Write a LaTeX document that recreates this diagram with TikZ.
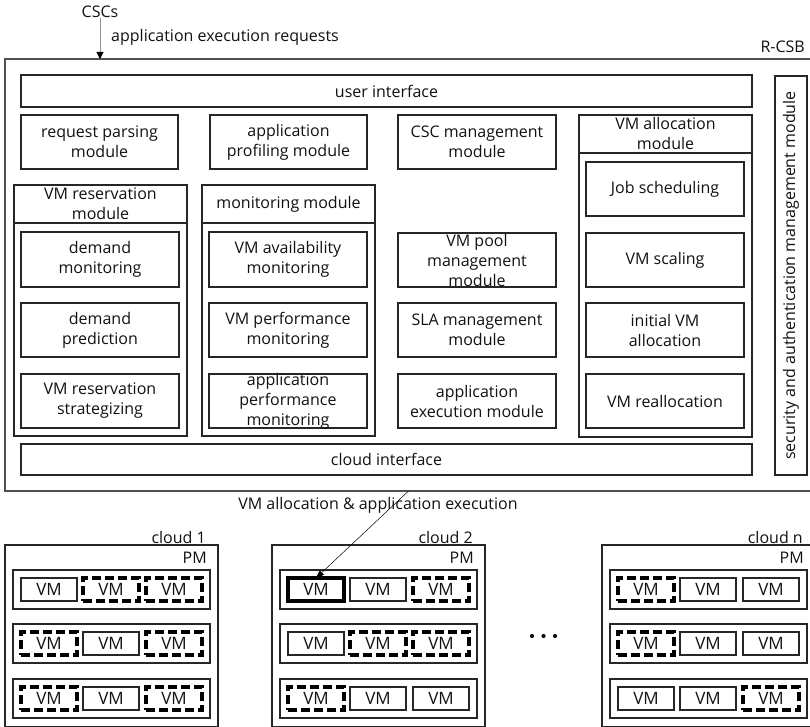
\documentclass[tikz,border=0pt]{standalone}
\usepackage{fontspec}
\setmainfont{Open Sans}
\usetikzlibrary{arrows.meta}
\definecolor{lc}{HTML}{262626}
\definecolor{tc}{HTML}{111111}
\definecolor{fc}{HTML}{505050}
\newcommand\mainfs{\fontsize{16}{20}\selectfont}
\newcommand\vmfs{\fontsize{17}{20}\selectfont}
\tikzset{
  box/.style={draw=lc, line width=1.4pt, inner sep=0pt, outer sep=0pt},
  lbl/.style={align=center, text=tc, font=\mainfs, inner sep=0pt},
  frame/.style={draw=fc, line width=1.7pt, inner sep=0pt, outer sep=0pt},
  divline/.style={draw=lc, line width=2.2pt},
  rowbox/.style={draw=lc, line width=1.3pt, inner sep=0pt, outer sep=0pt,
    minimum width=197pt, minimum height=39pt},
  svm/.style={draw=lc, line width=1.3pt, inner sep=0pt, outer sep=0pt,
    minimum width=56pt, minimum height=23pt, text=tc, font=\vmfs},
  dvm/.style={svm, draw=black, line width=3.1pt, dash pattern=on 9pt off 4pt},
  tvm/.style={svm, draw=black, line width=3.2pt},
}
% \bx[options]{name}{x1}{y1}{x2}{y2}{text}: a box between two corners, text centred
\newcommand\bx[7][]{%
  \node[box,#1,minimum width={(#5)-(#3)},minimum height={(#6)-(#4)}]
    (#2) at ({((#3)+(#5))/2},{((#4)+(#6))/2}) {};
  \node[lbl] (#2-t) at (#2.center) {#7};}
% \vmrow{name}{x}{y}{style1}{style2}{style3}: one PM with three VMs
\newcommand\vmrow[6]{%
  \node[rowbox] (#1) at ({(#2)+98.5},{(#3)+19.5}) {};
  \node[#4] (#1-a) at ({(#2)+36},{(#3)+19.5}) {VM};
  \node[#5] (#1-b) at ({(#2)+98},{(#3)+19.5}) {VM};
  \node[#6] (#1-c) at ({(#2)+161},{(#3)+19.5}) {VM};}
% \cloudbox{name}{x}{label}: the outer box of one cloud with its labels
\newcommand\cloudbox[3]{%
  \node[box,line width=1.3pt,minimum width=213pt,minimum height=182pt]
    (#1) at ({(#2)+106.5},636) {};
  \node[lbl,anchor=east] (#1-name) at ({(#2)+201},537) {#3};
  \node[lbl,anchor=east] (#1-pm) at ({(#2)+202},558) {PM};}

\begin{document}
\begin{tikzpicture}[x=1pt,y=-1pt]
\useasboundingbox (0,0) rectangle (810,727);
\clip (0,0) rectangle (810,727);

% requests from the consumers
\node[lbl] (cscs) at (100,12) {CSCs};
\node[lbl,anchor=west] (reqlbl) at (111,37) {application execution requests};

% broker frame
\node[frame,minimum width=807pt,minimum height=432pt] (rcsb) at (408.5,275) {};
\node[lbl,anchor=east] (rcsblbl) at (805,47) {R-CSB};
\coordinate (rcsbin) at (100,59);
\draw[draw=gray!85, line width=1pt,
  -{Triangle[length=7pt,width=7pt,color=black]}] (cscs.south) -- (rcsbin);

% interfaces
\bx{ui}{21}{75}{752}{107}{user interface}
\bx{ci}{21}{444}{752}{475}{cloud interface}

% top row of modules
\bx{req}{21}{115}{178}{169}{request parsing\\module}
\bx{prof}{210}{115}{367}{169}{application\\profiling module}
\bx{csc}{398}{115}{556}{169}{CSC management\\module}

% VM reservation module
\bx{resv}{14}{185}{187}{436}{}
\bx{resvh}{14}{185}{187}{223}{VM reservation\\module}
\draw[divline] (resvh.south west) -- (resvh.south east);
\bx{dmon}{21}{232}{179}{287}{demand\\monitoring}
\bx{dpred}{21}{303}{179}{357}{demand\\prediction}
\bx{strat}{21}{374}{179}{428}{VM reservation\\strategizing}

% monitoring module
\bx{mon}{202}{185}{375}{436}{}
\bx{monh}{202}{185}{375}{223}{monitoring module}
\draw[divline] (monh.south west) -- (monh.south east);
\bx{avail}{209}{232}{367}{287}{VM availability\\monitoring}
\bx{perf}{209}{303}{367}{357}{VM performance\\monitoring}
\bx{appperf}{209}{374}{367}{428}{application\\performance\\monitoring}

% stand-alone modules
\bx{pool}{398}{233}{556}{287}{VM pool\\management\\module}
\bx{sla}{398}{303}{556}{357}{SLA management\\module}
\bx{exec}{398}{374}{556}{428}{application\\execution module}

% VM allocation module
\bx{alloc}{579}{115}{752}{437}{}
\bx{alloch}{579}{115}{752}{153}{VM allocation\\module}
\draw[divline] (alloch.south west) -- (alloch.south east);
\bx{job}{586}{162}{744}{216}{Job scheduling}
\bx{scal}{586}{233}{744}{287}{VM scaling}
\bx{init}{586}{303}{744}{357}{initial VM\\allocation}
\bx{realloc}{586}{374}{744}{428}{VM reallocation}

% security module along the right side
\bx{sec}{775}{76}{807}{475}{}
\node[lbl,rotate=90] (sectext) at (sec.center)
  {security and authentication management module};

% clouds
\cloudbox{cl1}{5}{cloud 1}
\vmrow{c1r1}{13}{570}{svm}{dvm}{dvm}
\vmrow{c1r2}{13}{624}{dvm}{svm}{dvm}
\vmrow{c1r3}{13}{679}{dvm}{svm}{dvm}

\cloudbox{cl2}{272}{cloud 2}
\vmrow{c2r1}{280}{570}{tvm}{svm}{dvm}
\vmrow{c2r2}{280}{624}{svm}{dvm}{dvm}
\vmrow{c2r3}{280}{679}{dvm}{svm}{svm}

\cloudbox{cln}{602}{cloud n}
\vmrow{cnr1}{610}{570}{dvm}{svm}{svm}
\vmrow{cnr2}{610}{624}{dvm}{svm}{svm}
\vmrow{cnr3}{610}{679}{svm}{svm}{dvm}

% ellipsis between the clouds
\fill[tc] (532,636) circle (2.1) (543.5,636) circle (2.1) (555,636) circle (2.1);

% allocation of a VM in cloud 2
\node[lbl] (alloclbl) at (378,505) {VM allocation \& application execution};
\draw[draw=black, line width=0.5pt,
  -{Triangle[length=8pt,width=6pt]}] (rcsb.south) -- (c2r1-a.north);
\end{tikzpicture}
\end{document}
